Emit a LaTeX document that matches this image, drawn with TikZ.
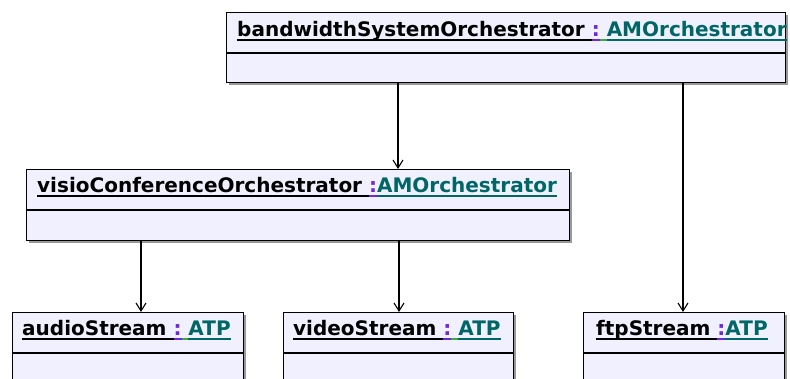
\documentclass[tikz,border=0pt]{standalone}
\usepackage{fontspec}
\setmainfont{DejaVu Sans}
\usetikzlibrary{arrows.meta,shadows}
\definecolor{boxfill}{RGB}{240,240,255}
\definecolor{cteal}{RGB}{0,102,102}
\definecolor{cpurple}{RGB}{110,40,220}
\definecolor{cgreen}{RGB}{60,170,60}
\newcommand\ulbox[1]{\setbox0\hbox{#1}\rlap{\raisebox{-3.6pt}{\rule{\wd0}{1.3pt}}}\box0}
\newcommand\umllabel[3]{\ulbox{#1}#2\textcolor{cteal}{\ulbox{#3}}}
\begin{document}
\begin{tikzpicture}[x=1pt,y=-1pt,
  font=\fontsize{20}{23}\selectfont\bfseries,
  umlbox/.style={draw=black, line width=1.3pt, fill=boxfill, rectangle, inner sep=0pt, anchor=north west,
    drop shadow={shadow xshift=2.5pt, shadow yshift=-2.5pt, fill=black!40, opacity=1}},
  divider/.style={line width=1.1pt},
  lbl/.style={anchor=base west, inner sep=0pt},
  conn/.style={line width=1.1pt, -{Straight Barb[length=8pt,width=10pt,line width=1.1pt]}}]
\useasboundingbox (0,0) rectangle (790,379);
\clip (0,0) rectangle (790,379);
\fill[white] (0,0) rectangle (790,379);

% boxes
\node[umlbox, minimum width=559pt, minimum height=70pt] (bso) at (226,12) {};
\node[umlbox, minimum width=543pt, minimum height=71pt] (visio) at (26,169) {};
\node[umlbox, minimum width=231pt, minimum height=100pt] (audio) at (12,312) {};
\node[umlbox, minimum width=230pt, minimum height=100pt] (video) at (283,312) {};
\node[umlbox, minimum width=201pt, minimum height=100pt] (ftp) at (583,312) {};

% dividers
\draw[divider] ([yshift=-41pt]bso.north west) -- ([yshift=-41pt]bso.north east);
\draw[divider] ([yshift=-41pt]visio.north west) -- ([yshift=-41pt]visio.north east);
\draw[divider] ([yshift=-41pt]audio.north west) -- ([yshift=-41pt]audio.north east);
\draw[divider] ([yshift=-41pt]video.north west) -- ([yshift=-41pt]video.north east);
\draw[divider] ([yshift=-41pt]ftp.north west) -- ([yshift=-41pt]ftp.north east);

% labels
\node[lbl] (tbso) at (237,37) {\umllabel{bandwidthSystemOrchestrator\ }{\textcolor{cpurple}{\ulbox{:}}\textcolor{cgreen}{\ulbox{\ }}}{AMOrchestrator}};
\node[lbl] (tvisio) at (37,193) {\umllabel{visioConferenceOrchestrator\ }{\textcolor{cpurple}{\ulbox{:}}}{AMOrchestrator}};
\node[lbl] (taudio) at (22,336) {\umllabel{audioStream\ }{\textcolor{cpurple}{\ulbox{:}}\textcolor{cgreen}{\ulbox{\ }}}{ATP}};
\node[lbl] (tvideo) at (293,336) {\umllabel{videoStream\ }{\textcolor{cpurple}{\ulbox{:}}\textcolor{cgreen}{\ulbox{\ }}}{ATP}};
\node[lbl] (tftp) at (596,336) {\umllabel{ftpStream\ }{\textcolor{cpurple}{\ulbox{:}}}{ATP}};

% connectors
\coordinate (xa) at (398,0);
\coordinate (xb) at (683,0);
\coordinate (xc) at (141,0);
\coordinate (xd) at (399,0);
\draw[conn] (bso.south -| xa) -- (visio.north -| xa);
\draw[conn] (bso.south -| xb) -- (ftp.north -| xb);
\draw[conn] (visio.south -| xc) -- (audio.north -| xc);
\draw[conn] (visio.south -| xd) -- (video.north -| xd);
\end{tikzpicture}
\end{document}
